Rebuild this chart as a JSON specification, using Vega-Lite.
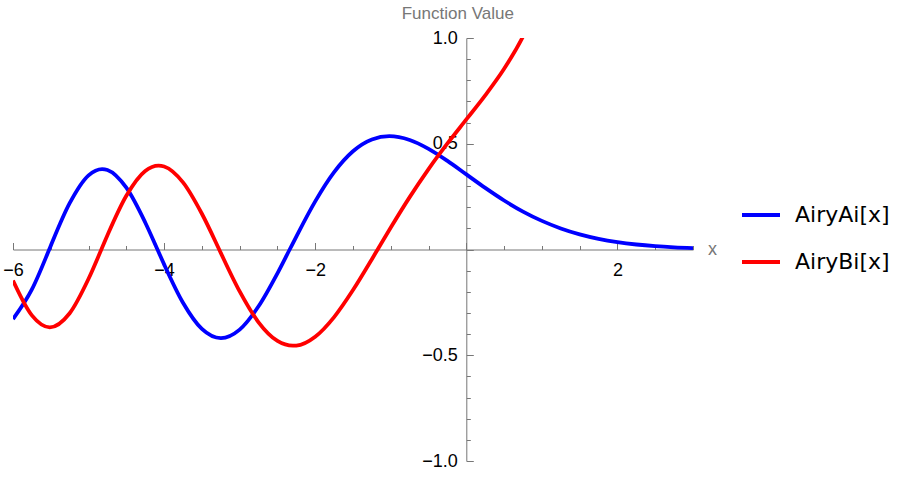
{
  "$schema": "https://vega.github.io/schema/vega-lite/v6.json",
  "width": 680,
  "height": 423,
  "autosize": {"type": "none"},
  "padding": {"left": 13, "top": 38, "right": 209, "bottom": 17},
  "background": "white",
  "config": {"view": {"stroke": null}, "font": "Liberation Sans"},
  "data": {"values": [
    {"x": -6, "value": -0.329145, "fn": "AiryAi[x]"},
    {"x": -5.75, "value": -0.188843, "fn": "AiryAi[x]"},
    {"x": -5.52056, "value": 0, "fn": "AiryAi[x]"},
    {"x": -5.5, "value": 0.017778, "fn": "AiryAi[x]"},
    {"x": -5.25, "value": 0.219008, "fn": "AiryAi[x]"},
    {"x": -5, "value": 0.350761, "fn": "AiryAi[x]"},
    {"x": -4.8201, "value": 0.380406, "fn": "AiryAi[x]"},
    {"x": -4.75, "value": 0.375933, "fn": "AiryAi[x]"},
    {"x": -4.5, "value": 0.292157, "fn": "AiryAi[x]"},
    {"x": -4.25, "value": 0.127791, "fn": "AiryAi[x]"},
    {"x": -4.08795, "value": 0, "fn": "AiryAi[x]"},
    {"x": -4, "value": -0.070266, "fn": "AiryAi[x]"},
    {"x": -3.75, "value": -0.251607, "fn": "AiryAi[x]"},
    {"x": -3.5, "value": -0.375535, "fn": "AiryAi[x]"},
    {"x": -3.2482, "value": -0.419015, "fn": "AiryAi[x]"},
    {"x": -3, "value": -0.378814, "fn": "AiryAi[x]"},
    {"x": -2.75, "value": -0.268635, "fn": "AiryAi[x]"},
    {"x": -2.5, "value": -0.112581, "fn": "AiryAi[x]"},
    {"x": -2.33811, "value": 0, "fn": "AiryAi[x]"},
    {"x": -2.25, "value": 0.061227, "fn": "AiryAi[x]"},
    {"x": -2, "value": 0.227407, "fn": "AiryAi[x]"},
    {"x": -1.75, "value": 0.365483, "fn": "AiryAi[x]"},
    {"x": -1.5, "value": 0.464256, "fn": "AiryAi[x]"},
    {"x": -1.25, "value": 0.520045, "fn": "AiryAi[x]"},
    {"x": -1.01879, "value": 0.535657, "fn": "AiryAi[x]"},
    {"x": -0.75, "value": 0.517772, "fn": "AiryAi[x]"},
    {"x": -0.5, "value": 0.475727, "fn": "AiryAi[x]"},
    {"x": -0.25, "value": 0.418725, "fn": "AiryAi[x]"},
    {"x": 0, "value": 0.355028, "fn": "AiryAi[x]"},
    {"x": 0.25, "value": 0.291164, "fn": "AiryAi[x]"},
    {"x": 0.5, "value": 0.231693, "fn": "AiryAi[x]"},
    {"x": 0.75, "value": 0.179338, "fn": "AiryAi[x]"},
    {"x": 1, "value": 0.135292, "fn": "AiryAi[x]"},
    {"x": 1.25, "value": 0.099646, "fn": "AiryAi[x]"},
    {"x": 1.5, "value": 0.071749, "fn": "AiryAi[x]"},
    {"x": 1.75, "value": 0.050571, "fn": "AiryAi[x]"},
    {"x": 2, "value": 0.034924, "fn": "AiryAi[x]"},
    {"x": 2.25, "value": 0.023706, "fn": "AiryAi[x]"},
    {"x": 2.5, "value": 0.015725, "fn": "AiryAi[x]"},
    {"x": 2.75, "value": 0.010279, "fn": "AiryAi[x]"},
    {"x": 3, "value": 0.006591, "fn": "AiryAi[x]"},
    {"x": -6, "value": -0.146698, "fn": "AiryBi[x]"},
    {"x": -5.75, "value": -0.311411, "fn": "AiryBi[x]"},
    {"x": -5.5124, "value": -0.367969, "fn": "AiryBi[x]"},
    {"x": -5.25, "value": -0.301349, "fn": "AiryBi[x]"},
    {"x": -5, "value": -0.138369, "fn": "AiryBi[x]"},
    {"x": -4.83074, "value": 0, "fn": "AiryBi[x]"},
    {"x": -4.75, "value": 0.067222, "fn": "AiryBi[x]"},
    {"x": -4.5, "value": 0.253871, "fn": "AiryBi[x]"},
    {"x": -4.25, "value": 0.37118, "fn": "AiryBi[x]"},
    {"x": -4.07316, "value": 0.396523, "fn": "AiryBi[x]"},
    {"x": -4, "value": 0.392234, "fn": "AiryBi[x]"},
    {"x": -3.75, "value": 0.317199, "fn": "AiryBi[x]"},
    {"x": -3.5, "value": 0.168965, "fn": "AiryBi[x]"},
    {"x": -3.27109, "value": 0, "fn": "AiryBi[x]"},
    {"x": -3.25, "value": -0.015998, "fn": "AiryBi[x]"},
    {"x": -3, "value": -0.198289, "fn": "AiryBi[x]"},
    {"x": -2.75, "value": -0.344374, "fn": "AiryBi[x]"},
    {"x": -2.5, "value": -0.432545, "fn": "AiryBi[x]"},
    {"x": -2.29444, "value": -0.454944, "fn": "AiryBi[x]"},
    {"x": -2.25, "value": -0.454389, "fn": "AiryBi[x]"},
    {"x": -2, "value": -0.412303, "fn": "AiryBi[x]"},
    {"x": -1.75, "value": -0.319503, "fn": "AiryBi[x]"},
    {"x": -1.5, "value": -0.191785, "fn": "AiryBi[x]"},
    {"x": -1.25, "value": -0.045867, "fn": "AiryBi[x]"},
    {"x": -1.17371, "value": 0, "fn": "AiryBi[x]"},
    {"x": -1, "value": 0.103997, "fn": "AiryBi[x]"},
    {"x": -0.75, "value": 0.24778, "fn": "AiryBi[x]"},
    {"x": -0.5, "value": 0.380353, "fn": "AiryBi[x]"},
    {"x": -0.25, "value": 0.5014, "fn": "AiryBi[x]"},
    {"x": 0, "value": 0.614927, "fn": "AiryBi[x]"},
    {"x": 0.25, "value": 0.728748, "fn": "AiryBi[x]"},
    {"x": 0.5, "value": 0.854277, "fn": "AiryBi[x]"},
    {"x": 0.75, "value": 1.006931, "fn": "AiryBi[x]"},
    {"x": 1, "value": 1.207424, "fn": "AiryBi[x]"}
  ]},
  "mark": {"type": "line", "clip": true, "strokeWidth": 3.8, "interpolate": "monotone"},
  "encoding": {
    "x": {
      "field": "x", "type": "quantitative",
      "scale": {"domain": [-6, 3], "nice": false, "zero": false},
      "axis": {
        "orient": "bottom", "offset": -211.5, "grid": false,
        "values": [-6, -5.5, -5, -4.5, -4, -3.5, -3, -2.5, -2, -1.5, -1, -0.5, 0, 0.5, 1, 1.5, 2, 2.5, 3],
        "labelExpr": "(datum.value % 2 === 0 && datum.value !== 0) ? replace(format(datum.value, 'd'), '-', '−') : ''",
        "tickSize": {"condition": {"test": "datum.value % 2 === 0", "value": -7}, "value": -4},
        "domainColor": "#777777", "tickColor": "#777777", "domainWidth": 1, "tickWidth": 1,
        "labelColor": "black", "labelFontSize": 18, "labelPadding": 19, "labelFlush": false, "labelOverlap": false,
        "title": "x", "titleX": 699, "titleY": 0, "titleBaseline": "middle", "titleAlign": "center",
        "titleColor": "#777777", "titleFontSize": 18, "titleFontWeight": "normal"
      }
    },
    "y": {
      "field": "value", "type": "quantitative",
      "scale": {"domain": [-1, 1], "nice": false, "zero": false},
      "axis": {
        "orient": "left", "offset": -453.3, "grid": false,
        "values": [-1, -0.9, -0.8, -0.7, -0.6, -0.5, -0.4, -0.3, -0.2, -0.1, 0, 0.1, 0.2, 0.3, 0.4, 0.5, 0.6, 0.7, 0.8, 0.9, 1],
        "labelExpr": "(abs(datum.value * 2 - round(datum.value * 2)) < 0.000001 && abs(datum.value) > 0.000001) ? replace(format(datum.value, '.1f'), '-', '−') : ''",
        "tickSize": {"condition": {"test": "abs(datum.value * 2 - round(datum.value * 2)) < 0.000001", "value": -7}, "value": -4},
        "domainColor": "#777777", "tickColor": "#777777", "domainWidth": 1, "tickWidth": 1,
        "labelColor": "black", "labelFontSize": 18, "labelPadding": 16, "labelFlush": false, "labelOverlap": false,
        "title": "Function Value", "titleX": -9, "titleY": -25, "titleAngle": 0, "titleBaseline": "middle", "titleAlign": "center",
        "titleColor": "#777777", "titleFontSize": 17, "titleFontWeight": "normal"
      }
    },
    "color": {
      "field": "fn", "type": "nominal",
      "scale": {"domain": ["AiryAi[x]", "AiryBi[x]"], "range": ["#0000ff", "#ff0000"]},
      "legend": {
        "orient": "none", "legendX": 727, "legendY": 156, "title": null, "padding": 0,
        "symbolType": "stroke", "symbolSize": 1444, "symbolStrokeWidth": 4,
        "labelFont": "DejaVu Sans", "labelFontSize": 22, "labelOffset": 13, "rowPadding": 15, "labelColor": "black"
      }
    }
  }
}
